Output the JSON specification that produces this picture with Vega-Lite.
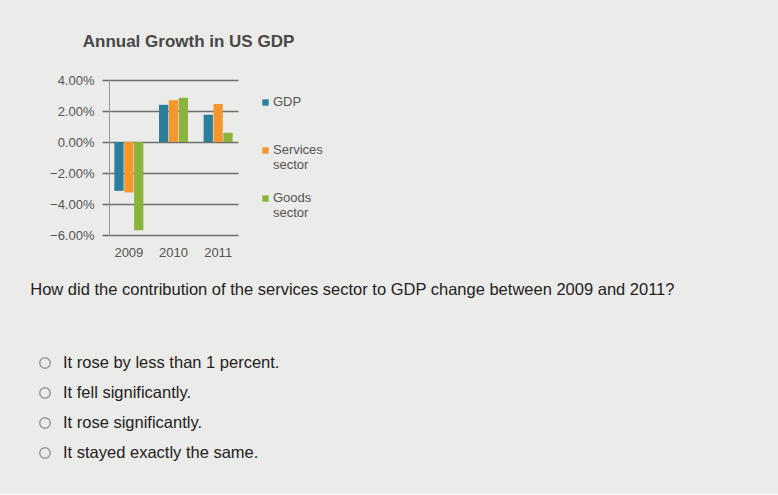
{
  "$schema": "https://vega.github.io/schema/vega-lite/v6.json",
  "background": "#ebebe9",
  "padding": {"left": 30, "top": 33, "right": 5, "bottom": 26},
  "spacing": 22,
  "datasets": {
    "growth": [
      {"year": "2009", "series": "GDP", "growth": -0.0315},
      {"year": "2009", "series": "Services sector", "growth": -0.0325},
      {"year": "2009", "series": "Goods sector", "growth": -0.057},
      {"year": "2010", "series": "GDP", "growth": 0.024},
      {"year": "2010", "series": "Services sector", "growth": 0.027},
      {"year": "2010", "series": "Goods sector", "growth": 0.0285},
      {"year": "2011", "series": "GDP", "growth": 0.0176},
      {"year": "2011", "series": "Services sector", "growth": 0.0245},
      {"year": "2011", "series": "Goods sector", "growth": 0.006}
    ],
    "answers": [
      {"answer": "It rose by less than 1 percent."},
      {"answer": "It fell significantly."},
      {"answer": "It rose significantly."},
      {"answer": "It stayed exactly the same."}
    ]
  },
  "vconcat": [
    {
      "data": {"name": "growth"},
      "width": 129,
      "height": 155,
      "title": {
        "text": "Annual Growth in US GDP",
        "fontSize": 17,
        "fontWeight": "bold",
        "color": "#484848",
        "anchor": "middle",
        "dx": 15,
        "offset": 23
      },
      "mark": {"type": "bar"},
      "encoding": {
        "x": {
          "field": "year", "type": "nominal", "title": null,
          "scale": {"paddingInner": 0.35, "paddingOuter": 0.12},
          "axis": {"labelAngle": 0, "domain": false, "ticks": false, "labelPadding": 11,
                   "labelFontSize": 13, "labelColor": "#555"}
        },
        "xOffset": {
          "field": "series", "type": "nominal",
          "sort": ["GDP", "Services sector", "Goods sector"],
          "scale": {"paddingInner": 0.06}
        },
        "y": {
          "field": "growth", "type": "quantitative", "title": null,
          "scale": {"domain": [-0.06, 0.04], "nice": false},
          "axis": {
            "values": [-0.06, -0.04, -0.02, 0, 0.02, 0.04],
            "format": ".2%",
            "grid": true, "gridColor": "#6e6e6e", "gridWidth": 1.6,
            "tickColor": "#6e6e6e", "tickWidth": 1.6, "tickSize": 7,
            "domain": true, "domainColor": "#999", "domainWidth": 1,
            "labelPadding": 8, "labelFontSize": 13, "labelColor": "#555"
          }
        },
        "color": {
          "field": "series", "type": "nominal",
          "scale": {
            "domain": ["GDP", "Services sector", "Goods sector"],
            "range": ["#2b7f9b", "#f5962e", "#8ab43c"]
          },
          "legend": {
            "title": null,
            "orient": "none",
            "legendX": 150,
            "legendY": 16,
            "symbolType": "square",
            "symbolSize": 40,
            "symbolStrokeWidth": 0,
            "labelFontSize": 13,
            "labelColor": "#555",
            "labelOffset": 1,
            "rowPadding": 19,
            "labelExpr": "datum.label == 'GDP' ? ['GDP', ' '] : split(datum.label, ' ')",
            "labelBaseline": "line-top",
            "encode": {"labels": {"update": {"dy": {"value": -8}}}}
          }
        }
      }
    },
    {
      "data": {"name": "answers"},
      "width": 666,
      "height": {"step": 30},
      "title": {
        "text": "How did the contribution of the services sector to GDP change between 2009 and 2011?",
        "anchor": "start",
        "fontSize": 16.5,
        "fontWeight": "normal",
        "color": "#222",
        "dx": -6.5,
        "offset": 50
      },
      "encoding": {
        "y": {"field": "answer", "type": "nominal", "sort": null, "axis": null}
      },
      "layer": [
        {
          "mark": {"type": "point", "shape": "circle", "filled": false, "size": 110,
                   "stroke": "#777", "strokeWidth": 1.5},
          "encoding": {
            "x": {"datum": 0, "type": "quantitative",
                  "scale": {"domain": [0, 1], "range": [-64, -46]}, "axis": null}
          }
        },
        {
          "mark": {"type": "text", "align": "left", "fontSize": 16.5, "color": "#222"},
          "encoding": {
            "x": {"datum": 1, "type": "quantitative"},
            "text": {"field": "answer"}
          }
        }
      ]
    }
  ],
  "config": {"view": {"stroke": null}, "font": "Liberation Sans"}
}
